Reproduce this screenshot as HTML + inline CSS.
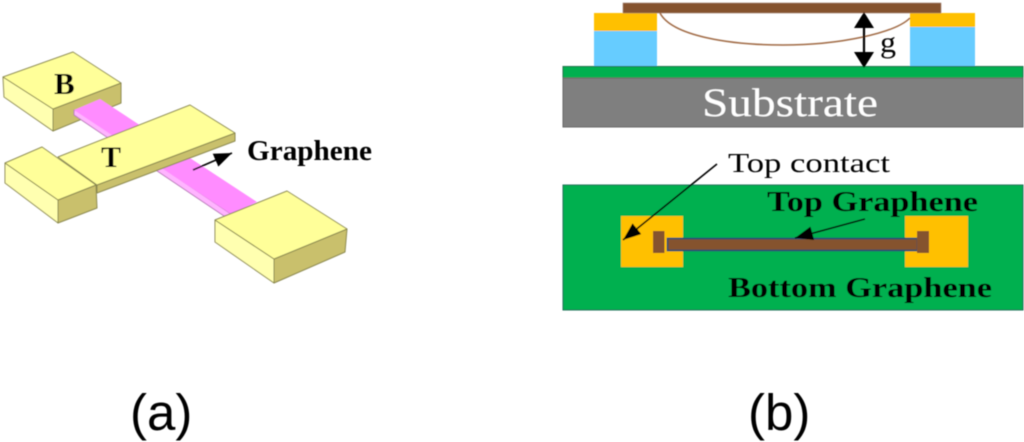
<!DOCTYPE html>
<html><head><meta charset="utf-8"><style>html,body{margin:0;padding:0;background:#fff}svg{display:block}</style></head><body>
<svg xmlns="http://www.w3.org/2000/svg" width="1024" height="442" viewBox="0 0 1024 442">
<defs>
<filter id="b" x="-5%" y="-5%" width="110%" height="110%"><feGaussianBlur stdDeviation="0.6"/></filter>
<marker id="ah" markerUnits="userSpaceOnUse" markerWidth="20" markerHeight="16" refX="18" refY="7" orient="auto"><path d="M0,0L18,7L0,14Z" fill="#000"/></marker>
</defs>
<g filter="url(#b)">
<!-- panel a -->
<g stroke="#8a8850" stroke-width="1" stroke-linejoin="round">
<!-- B pad -->
<path d="M3,77L53,109L53,131L4,97Z" fill="#ffffb0"/>
<path d="M53,109L121,83L121,103L53,131Z" fill="#c9c06c"/>
<path d="M3,77L73,52L121,83L53,109Z" fill="#ffff99"/>
<!-- strip -->
<path d="M74,110L74,115L224,216L231,214L80,112Z" fill="#ffb4ff" stroke="#b070b0" stroke-width="0.8"/>
<path d="M74,110L100,99L257,202L231,214Z" fill="#ff8cff" stroke="none"/>
<!-- T beam -->
<path d="M97,185L235,133L235,141L97,193Z" fill="#c9c06c"/>
<path d="M58,157L190,105L235,133L97,185Z" fill="#ffff99"/>
<!-- T pad -->
<path d="M5,163L58,200L58,223L5,183Z" fill="#ffffb0"/>
<path d="M58,200L96,185L97,208L58,223Z" fill="#c9c06c"/>
<path d="M5,163L42,147L96,185L58,200Z" fill="#ffff99"/>
<!-- lower pad -->
<path d="M215,220L274,259L274,283L215,242Z" fill="#ffffb0"/>
<path d="M274,259L347,229L345,252L274,283Z" fill="#c9c06c"/>
<path d="M215,220L287,191L347,229L274,259Z" fill="#ffff99"/>
</g>
<line x1="193" y1="170" x2="232" y2="153" stroke="#000" stroke-width="1.6" marker-end="url(#ah)"/>
<g font-family="'Liberation Serif',serif" font-weight="bold" fill="#000">
<text x="54" y="94" font-size="31">B</text>
<text x="101" y="167" font-size="30">T</text>
<text x="247" y="160" font-size="28" textLength="125" lengthAdjust="spacingAndGlyphs">Graphene</text>
</g>
<!-- panel b top -->
<rect x="594" y="13" width="63" height="18" fill="#ffc000"/>
<rect x="594" y="31" width="63" height="35" fill="#66ccff"/>
<rect x="910" y="13" width="65" height="14" fill="#ffc000"/>
<rect x="910" y="27" width="65" height="39" fill="#66ccff"/>
<rect x="623" y="3" width="318" height="10" fill="#85532f" stroke="#a08070" stroke-width="0.6"/>
<path d="M660,13C672,36 730,45 783,45C840,45 895,33 910,18" fill="none" stroke="#a06a45" stroke-width="1.5"/>
<rect x="563" y="66.5" width="460" height="11.5" fill="#00b050" stroke="#1c6e48" stroke-width="1"/>
<rect x="563" y="78" width="460" height="49" fill="#7f7f7f" stroke="#666" stroke-width="1"/>
<text x="702" y="116" font-family="'Liberation Serif',serif" font-size="40" fill="#fff" textLength="176" lengthAdjust="spacingAndGlyphs">Substrate</text>
<line x1="864" y1="20" x2="864" y2="60" stroke="#000" stroke-width="2.2"/>
<path d="M864,12L854,28L874,28Z M864,68L854,52L874,52Z" fill="#000"/>
<text x="880" y="52" font-family="'Liberation Serif',serif" font-size="30" textLength="16" lengthAdjust="spacingAndGlyphs" fill="#000">g</text>
<!-- panel b bottom -->
<rect x="563" y="185" width="460" height="125" fill="#00b050" stroke="#1c6e58" stroke-width="1"/>
<rect x="621" y="216" width="62" height="51" fill="#ffc000"/>
<rect x="905" y="216" width="63" height="51" fill="#ffc000"/>
<rect x="667.5" y="238.5" width="250" height="12" fill="#85532f" stroke="#1f4e79" stroke-width="1.6"/>
<rect x="653" y="231" width="11.5" height="22" fill="#85532f"/>
<rect x="917" y="231" width="12" height="22" fill="#85532f"/>
<line x1="717" y1="164" x2="623" y2="240" stroke="#000" stroke-width="1.6" marker-end="url(#ah)"/>
<line x1="865" y1="219" x2="795" y2="238" stroke="#000" stroke-width="1.6" marker-end="url(#ah)"/>
<g font-family="'Liberation Serif',serif" fill="#000">
<text x="728" y="172" font-size="27" textLength="162" lengthAdjust="spacingAndGlyphs">Top contact</text>
<text x="767" y="211" font-size="28" font-weight="bold" textLength="211" lengthAdjust="spacingAndGlyphs">Top Graphene</text>
<text x="728" y="297" font-size="28" font-weight="bold" textLength="264" lengthAdjust="spacingAndGlyphs">Bottom Graphene</text>
</g>
<g font-family="'Liberation Sans',sans-serif" font-size="51" fill="#000">
<text x="130" y="430">(a)</text>
<text x="748" y="430">(b)</text>
</g>
</g>
</svg>
</body></html>
